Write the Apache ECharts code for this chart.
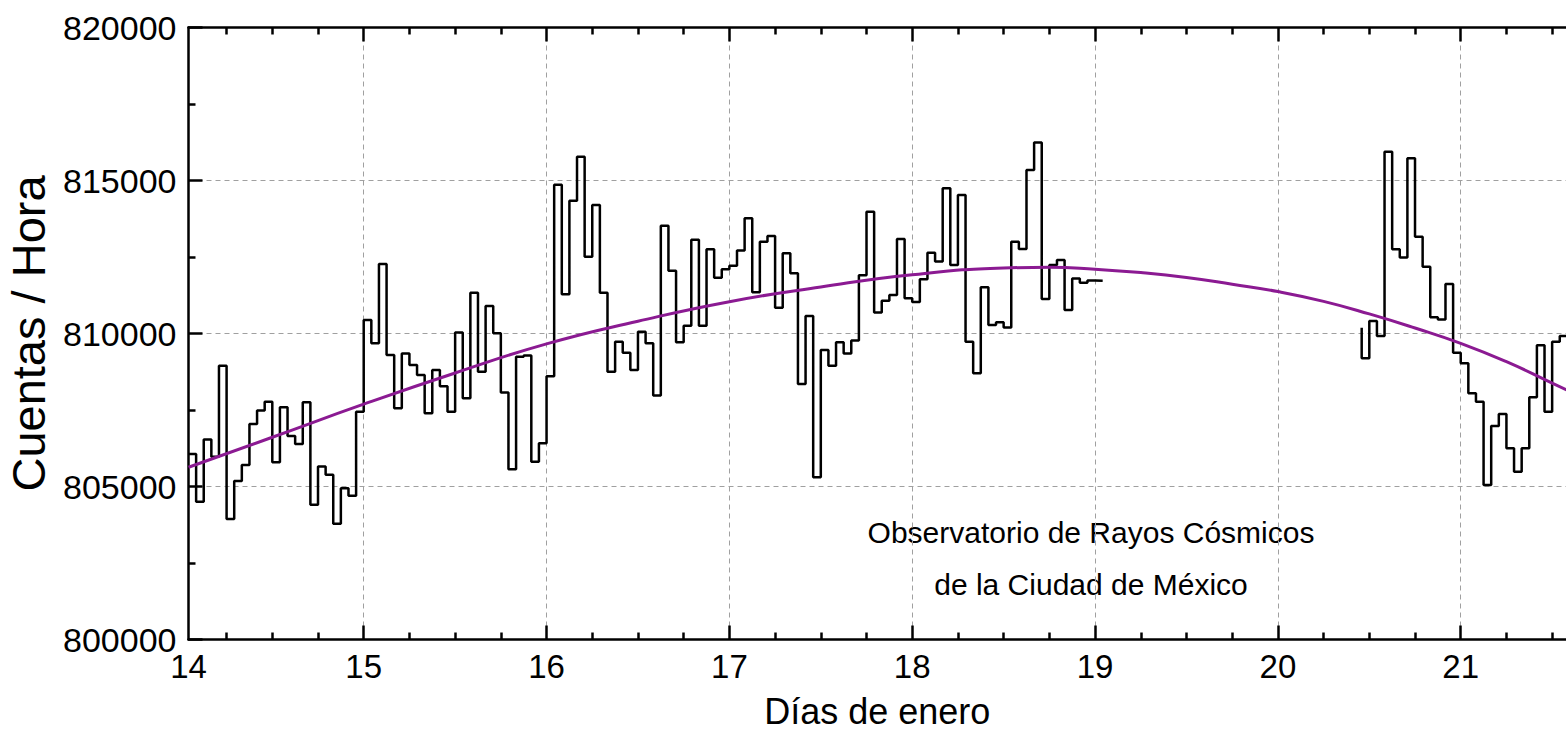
<!DOCTYPE html>
<html>
<head>
<meta charset="utf-8">
<script src="https://cdn.jsdelivr.net/npm/echarts@6/dist/echarts.min.js"></script>
<style>
html,body{margin:0;padding:0;background:#fff;}
#chart{width:1566px;height:733px;}
</style>
</head>
<body>
<div id="chart"></div>
<script>
// ---------------- DATA ----------------
// Hourly counts, first segment: bins start at day 14 + 1/24
var seg1Start = 14 + 1/24;
var seg1Values = [
  // day 14, hours 1..23
  806060, 804500, 806540, 805970, 808950, 803940, 805180, 805700, 807040, 807480, 807770, 805790,
  807590, 806650, 806390, 807750, 804400, 805650, 805380, 803780, 804940, 804700, 807440,
  // day 15
  810440, 809680, 812270, 809300, 807560, 809350, 808970, 808640, 807390, 808810, 808280, 807440,
  810030, 807880, 811330, 808750, 810900, 810010, 808070, 805560, 809240, 809280, 805810, 806410,
  // day 16
  808600, 814860, 811280, 814340, 815780, 812510, 814200, 811330, 808750, 809730, 809370, 808810,
  810060, 809680, 807970, 813520, 812050, 809710, 810250, 813060, 810250, 812750, 811820, 812100,
  // day 17
  812210, 812710, 813770, 811350, 813000, 813190, 810840, 812620, 811970, 808350, 810570, 805300,
  809460, 808950, 809710, 809350, 809770, 811900, 813980, 810690, 811070, 811260, 813090, 811150,
  // day 18
  811030, 811770, 812640, 812350, 814750, 812240, 814530, 809730, 808700, 811510, 810280, 810370,
  810200, 813000, 812760, 815340, 816240, 811130, 812240, 812400, 810770, 811800, 811660, 811730,
  // day 19, hour 0
  811720
];
// Second segment: bins start at day 20 + 11/24
var seg2Start = 20 + 11/24;
var seg2Lead = 810190;
var seg2Values = [
  809190, 810410, 809920, 815940, 812750, 812480, 815730, 813160, 812180, 810530, 810460, 811620, 809370,
  809030, 808050, 807770, 805050, 806980, 807370, 806250, 805480, 806250, 807920, 809620, 807440,
  809730, 809920, 808590
];
// Fitted trend curve
var fitX = [14.042, 14.5, 15, 15.5, 16, 16.5, 17, 17.5, 18, 18.5, 18.75, 19, 19.25, 19.5, 19.75, 20, 20.25, 20.5, 20.75, 21, 21.25, 21.5, 21.6];
var fitY = [805630, 806610, 807690, 808710, 809660, 810400, 811040, 811520, 811920, 812140, 812165, 812100, 811990, 811830, 811610, 811370, 811050, 810640, 810180, 809680, 809080, 808380, 808100];

// Axis ticks / labels
var xMajorTicks = [15, 16, 17, 18, 19, 20, 21];
var xMinorTicks = [14.25, 14.5, 14.75, 15.25, 15.5, 15.75, 16.25, 16.5, 16.75, 17.25, 17.5, 17.75,
                   18.25, 18.5, 18.75, 19.25, 19.5, 19.75, 20.25, 20.5, 20.75, 21.25, 21.5];
var xLabelValues = [14 + 1/24, 15, 16, 17, 18, 19, 20, 21];
var xLabelTexts = ['14', '15', '16', '17', '18', '19', '20', '21'];
var X_MIN = 14 + 1/24, X_MAX = 21.5758;
var Y_MIN = 800000, Y_MAX = 820000, Y_STEP = 5000;
var annotationLines = ['Observatorio de Rayos Cósmicos', 'de la Ciudad de México'];

// ---------------- BUILD ----------------
function stepPoints(start, values, lead) {
  var pts = [];
  if (lead !== undefined) pts.push([start, lead]);
  for (var i = 0; i < values.length; i++) pts.push([start + i / 24, values[i]]);
  pts.push([start + values.length / 24, values[values.length - 1]]);
  return pts;
}
var fitData = fitX.map(function (x, i) { return [x, fitY[i]]; });

var FONT = 'Liberation Sans, Arial, sans-serif';
var black = '#000';
var gridLine = { show: true, lineStyle: { type: [5, 4], color: '#a0a0a0', width: 1 } };
var tickStyle = { color: black, width: 2.5 };

function labelFor(v) {
  for (var i = 0; i < xLabelValues.length; i++) if (Math.abs(xLabelValues[i] - v) < 1e-6) return xLabelTexts[i];
  return String(Math.round(v));
}

var chart = echarts.init(document.getElementById('chart'), null, { renderer: 'svg' });
chart.setOption({
  animation: false,
  backgroundColor: '#fff',
  grid: { left: 188.5, right: 0, top: 27.5, bottom: 93.5, containLabel: false, outerBoundsMode: 'none' },
  xAxis: [
    {
      type: 'value', position: 'bottom', min: X_MIN, max: X_MAX,
      axisLine: { show: true, onZero: false, lineStyle: { color: black, width: 2.5 } },
      axisTick: { show: true, inside: true, length: 14, customValues: xMajorTicks, lineStyle: tickStyle },
      axisLabel: { customValues: xLabelValues, formatter: labelFor, fontSize: 33, fontFamily: FONT, color: black, margin: 10 },
      splitLine: gridLine,
      name: 'Días de enero', nameLocation: 'middle', nameGap: 56,
      nameTextStyle: { fontSize: 36, lineHeight: 31, fontFamily: FONT, color: black }
    },
    {
      type: 'value', position: 'bottom', min: X_MIN, max: X_MAX,
      axisLine: { show: false, onZero: false },
      axisTick: { show: true, inside: true, length: 7, customValues: xMinorTicks, lineStyle: tickStyle },
      axisLabel: { show: false }, splitLine: { show: false }
    },
    {
      type: 'value', position: 'top', min: X_MIN, max: X_MAX,
      axisLine: { show: true, onZero: false, lineStyle: { color: black, width: 2.5 } },
      axisTick: { show: true, inside: true, length: 14, customValues: xMajorTicks, lineStyle: tickStyle },
      axisLabel: { show: false }, splitLine: { show: false }
    },
    {
      type: 'value', position: 'top', min: X_MIN, max: X_MAX,
      axisLine: { show: false, onZero: false },
      axisTick: { show: true, inside: true, length: 7, customValues: xMinorTicks, lineStyle: tickStyle },
      axisLabel: { show: false }, splitLine: { show: false }
    }
  ],
  yAxis: [
    {
      type: 'value', position: 'left', min: Y_MIN, max: Y_MAX, interval: Y_STEP,
      axisLine: { show: true, onZero: false, lineStyle: { color: black, width: 2.5 } },
      axisTick: { show: true, inside: true, length: 14, lineStyle: tickStyle },
      minorTick: { show: true, splitNumber: 2, length: 7, lineStyle: tickStyle },
      axisLabel: { fontSize: 34, fontFamily: FONT, color: black, margin: 12, formatter: function (v) { return String(v); } },
      splitLine: gridLine,
      name: 'Cuentas / Hora', nameLocation: 'middle', nameGap: 108,
      nameTextStyle: { fontSize: 47, fontFamily: FONT, color: black }
    }
  ],
  series: [
    {
      type: 'line', name: 'seg1', xAxisIndex: 0, yAxisIndex: 0, step: 'end', showSymbol: false,
      lineStyle: { color: black, width: 2.5 }, data: stepPoints(seg1Start, seg1Values), z: 3
    },
    {
      type: 'line', name: 'seg2', xAxisIndex: 0, yAxisIndex: 0, step: 'end', showSymbol: false,
      lineStyle: { color: black, width: 2.5 }, data: stepPoints(seg2Start, seg2Values, seg2Lead), z: 3
    },
    {
      type: 'line', name: 'ajuste', xAxisIndex: 0, yAxisIndex: 0, smooth: true, showSymbol: false,
      lineStyle: { color: '#8b1a92', width: 3 }, data: fitData, z: 4
    }
  ],
  graphic: [
    { type: 'text', x: 1091, y: 532, style: { text: annotationLines[0], font: '30px ' + FONT, fill: '#000', align: 'center', verticalAlign: 'middle' } },
    { type: 'text', x: 1091, y: 584, style: { text: annotationLines[1], font: '30px ' + FONT, fill: '#000', align: 'center', verticalAlign: 'middle' } }
  ]
});
</script>
</body>
</html>
